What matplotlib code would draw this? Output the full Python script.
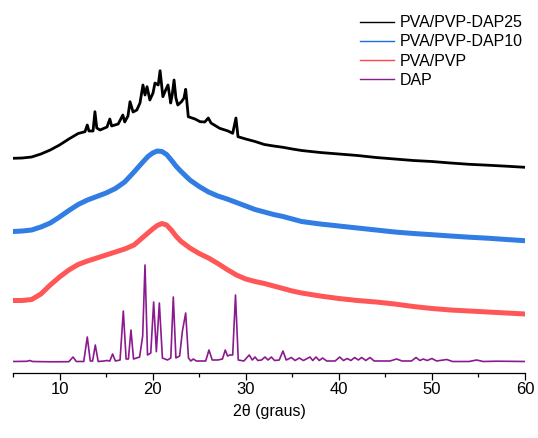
import numpy as np
import matplotlib
matplotlib.use("Agg")
import matplotlib.pyplot as plt
from matplotlib.ticker import MultipleLocator

plt.rcParams['font.family'] = ['Liberation Sans', 'DejaVu Sans']

# --- data: 2theta (graus) and stacked intensity (a.u.) ---
dap_x = [5.0, 6.5, 6.8, 7.1, 9.0, 11.0, 11.45, 11.8, 12.6, 12.98, 13.3, 13.55, 13.84, 14.15,
         14.8, 15.06, 15.4, 15.7, 16.0, 16.5, 16.85, 17.15, 17.4, 17.67, 17.95, 18.6, 18.93,
         19.18, 19.45, 19.8, 20.11, 20.4, 20.72, 21.05, 21.6, 21.95, 22.22, 22.5, 22.9, 23.2,
         23.55, 23.85, 24.1, 24.37, 24.7, 25.7, 26.05, 26.4, 27.0, 27.5, 27.8, 28.05, 28.3,
         28.6, 28.9, 29.2, 29.8, 30.38, 30.7, 31.0, 31.3, 31.7, 32.07, 32.4, 32.75, 33.1, 33.6,
         34.0, 34.35, 34.9, 35.3, 35.75, 36.2, 36.9, 37.2, 37.55, 37.9, 38.26, 38.7, 39.6,
         40.1, 40.5, 40.9, 41.3, 41.7, 42.1, 42.45, 42.9, 43.35, 43.8, 45.5, 46.2, 46.8, 47.8,
         48.3, 48.7, 49.07, 49.5, 50.0, 50.5, 51.6, 52.2, 54.0, 54.8, 55.5, 57.0, 60.0]
dap_y = [11.5, 11.7, 12.5, 11.5, 11.2, 11.3, 16, 11.5, 11.5, 36, 12, 12, 28, 11.5,
         12, 12.5, 12, 19, 12, 13, 62, 14, 14, 43, 14, 16, 37,
         108, 18, 20, 71, 21.3, 70, 15, 13, 15, 76, 15, 17, 42,
         60, 15, 12, 14, 12, 12, 23, 13, 13, 14, 23, 17, 18,
         18, 78, 13, 12, 18, 13, 16, 12.5, 13, 16, 13, 16, 12.5, 13,
         22, 13, 15.5, 12.5, 15, 12.5, 16, 12.5, 16, 12.5, 15, 12, 12,
         16, 12.5, 14.5, 12.5, 15.5, 13, 15.5, 12.5, 15.5, 12, 12, 14, 12, 12,
         15.5, 12.5, 14, 12.5, 14.5, 12, 13.5, 11.5, 11.5, 13, 11.5, 11.8, 11.5]

pvp_x = [5, 6, 7, 8, 9, 10, 11, 12, 13, 14, 15, 16, 17, 18, 19, 20, 20.5, 21, 21.5, 22,
         22.5, 23, 24, 25, 26, 27, 28, 29, 30, 31, 32, 33, 34, 35, 36, 38, 40, 42, 44,
         46, 48, 50, 52, 54, 56, 58, 60]
pvp_y = [72.5, 72.5, 73.5, 79, 88, 96, 103, 108.5, 112, 115, 118, 121, 124, 128, 136, 144,
         147.5, 149.5, 148, 143, 137, 132, 125, 119.5, 115, 109.5, 103.5, 98, 94, 91.5,
         89.5, 87, 84.5, 82, 80, 77, 74.5, 72.5, 71, 69, 66.5, 64.5, 63, 62, 61, 60, 59]

dap10_x = [5, 6, 7, 8, 9, 10, 11, 12, 13, 14, 15, 16, 17, 18, 19, 19.5, 20, 20.5, 21, 21.5,
           22, 22.5, 23, 24, 25, 26, 27, 28, 29, 30, 31, 32, 33, 34, 35, 36, 38, 40, 42,
           44, 46, 48, 50, 52, 54, 56, 58, 60]
dap10_y = [141.5, 142, 143, 146, 150, 156, 162.5, 168.5, 173, 176.5, 180, 184.5, 191, 201,
           211.5, 216.5, 220, 222, 221.5, 218.5, 213, 207, 202, 193, 186.5, 181, 177, 174,
           170.5, 167, 163.5, 161, 158.5, 156.5, 154, 151.5, 149, 147, 145, 143, 141,
           139.5, 138.3, 137, 135.8, 134.8, 133.5, 132.3]

dap25_x = [5, 6, 7, 8, 9, 10, 11, 12, 12.73, 12.98, 13.16, 13.6, 13.8, 14.0, 14.35, 15.1,
           15.4, 15.6, 16.3, 16.8, 17.0, 17.35, 17.57, 17.9, 18.3, 18.64, 18.96, 19.18,
           19.4, 19.7, 20.04, 20.25, 20.6, 20.8, 21.1, 21.4, 21.65, 21.94, 22.1, 22.3, 22.5,
           22.7, 23.1, 23.37, 23.55, 23.83, 24.55, 25.1, 25.6, 25.98, 26.27, 27.2, 28.1,
           28.6, 28.95, 29.17, 30, 31, 32, 33, 34, 35, 36, 38, 40, 42, 44, 46, 48, 50,
           52, 54, 56, 58, 60]
dap25_y = [214.7, 215, 216, 219, 223, 228, 234, 239.5, 241.3, 248, 242, 242, 261.3, 245,
           243, 246, 254, 247, 249, 258, 251, 257, 271.3, 261, 263, 270, 288, 278,
           286.3, 273, 280, 290, 288, 302.3, 276.3, 283, 288, 270, 278, 293, 275,
           268, 271.3, 275, 283.7, 256.3, 254, 251.3, 251, 255, 250, 244.7, 242,
           239.7, 255, 236.3, 234, 231.5, 228.5, 227, 225.7, 224, 222.5, 220.5, 219,
           217.5, 215.5, 214, 212.5, 211.5, 210, 208.7, 207.8, 206.8, 205.7]

fig = plt.figure(figsize=(5.38, 4.38), dpi=100)
ax = fig.add_axes([13 / 538, 65 / 438, 512 / 538, 373 / 438])

ax.plot(dap25_x, dap25_y, color='#000000', lw=2.0, solid_joinstyle='round', label='PVA/PVP-DAP25')
ax.plot(dap10_x, dap10_y, color='#1a6fe0', lw=3.6, alpha=0.9, solid_joinstyle='round', label='PVA/PVP-DAP10')
ax.plot(pvp_x, pvp_y, color='#ff4545', lw=3.6, alpha=0.9, solid_joinstyle='round', label='PVA/PVP')
ax.plot(dap_x, dap_y, color='#8b1a8f', lw=1.2, label='DAP')

ax.set_xlim(5, 60)
ax.set_ylim(0, 373)
ax.xaxis.set_major_locator(MultipleLocator(10))
ax.xaxis.set_minor_locator(MultipleLocator(5))
ax.tick_params(axis='x', which='major', direction='out', length=5, width=0.9, labelsize=12, pad=1.5)
ax.tick_params(axis='x', which='minor', direction='out', length=3, width=0.9)
ax.set_yticks([])
for s in ['left', 'right', 'top']:
    ax.spines[s].set_visible(False)
ax.spines['bottom'].set_linewidth(0.9)
ax.set_xlabel('2θ (graus)', fontsize=11.5, labelpad=5)

leg = ax.legend(loc='upper right', bbox_to_anchor=(1.009, 0.976), frameon=False, fontsize=11.5,
                handlelength=2.1, handletextpad=0.4, labelspacing=0.26, borderaxespad=0)
for h in leg.get_lines():
    h.set_linewidth(1.0)
    h.set_alpha(1.0)

fig.savefig('out.png', dpi=100)
